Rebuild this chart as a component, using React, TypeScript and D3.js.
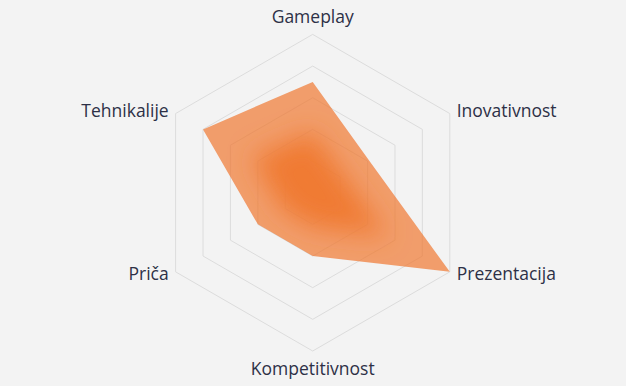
import React, { useRef, useEffect } from 'react';
import * as d3 from 'd3';

const categories = ['Gameplay', 'Inovativnost', 'Prezentacija', 'Kompetitivnost', 'Priča', 'Tehnikalije'];
const scores = [7, 4.1, 10, 4, 4, 8];
const maxScore = 10;
const ringLevels = [2, 4, 6, 8, 10];

const W = 626;
const H = 386;

const App: React.FC = () => {
  const svgRef = useRef<SVGSVGElement>(null);

  useEffect(() => {
    if (!svgRef.current) return;
    const svg = d3.select(svgRef.current);
    svg.selectAll('*').remove();

    const cx = 312.7;
    const cy = 192.7;
    const radius = 158.3;

    const r = d3.scaleLinear().domain([0, maxScore]).range([0, radius]);
    const angle = (i: number) => (i * 2 * Math.PI) / categories.length;

    const point = (i: number, v: number): [number, number] => [
      r(v) * Math.sin(angle(i)),
      -r(v) * Math.cos(angle(i))
    ];

    svg.append('rect').attr('width', W).attr('height', H).attr('fill', '#f3f3f3');

    const defs = svg.append('defs');
    defs.append('filter')
      .attr('id', 'soft')
      .attr('x', '-50%').attr('y', '-50%').attr('width', '200%').attr('height', '200%')
      .append('feGaussianBlur')
      .attr('stdDeviation', 13);

    const line = d3.line<[number, number]>().curve(d3.curveLinearClosed);
    const dataPts = scores.map((v, i) => point(i, v));

    defs.append('clipPath')
      .attr('id', 'shape')
      .append('path')
      .attr('d', line(dataPts));

    const g = svg.append('g').attr('transform', `translate(${cx},${cy})`);

    // grid rings only
    ringLevels.forEach(level => {
      g.append('path')
        .attr('d', line(categories.map((_, i) => point(i, level))))
        .attr('fill', 'none')
        .attr('stroke', '#dcdcdc')
        .attr('stroke-width', 1);
    });

    // data area
    g.append('path')
      .attr('d', line(dataPts))
      .attr('fill', '#f07830')
      .attr('fill-opacity', 0.7);

    const inner = g.append('g').attr('clip-path', 'url(#shape)');
    inner.append('path')
      .attr('d', line(scores.map((v, i) => point(i, v * 0.55))))
      .attr('fill', '#f07830')
      .attr('fill-opacity', 0.95)
      .attr('filter', 'url(#soft)');

    // labels
    const labelPos = [
      { dx: 0, dy: -170, anchor: 'middle' },
      { dx: 144, dy: -76, anchor: 'start' },
      { dx: 144, dy: 87, anchor: 'start' },
      { dx: 0, dy: 182, anchor: 'middle' },
      { dx: -144, dy: 87, anchor: 'end' },
      { dx: -144, dy: -76, anchor: 'end' }
    ];
    categories.forEach((name, i) => {
      g.append('text')
        .attr('x', labelPos[i].dx)
        .attr('y', labelPos[i].dy)
        .attr('text-anchor', labelPos[i].anchor)
        .attr('font-family', 'Open Sans, sans-serif')
        .attr('font-size', '17.5px')
        .attr('fill', '#2d3046')
        .text(name);
    });
  }, []);

  return (
    <svg
      ref={svgRef}
      width={W}
      height={H}
      style={{ position: 'absolute', left: 0, top: 0, display: 'block' }}
    />
  );
};

export default App;
